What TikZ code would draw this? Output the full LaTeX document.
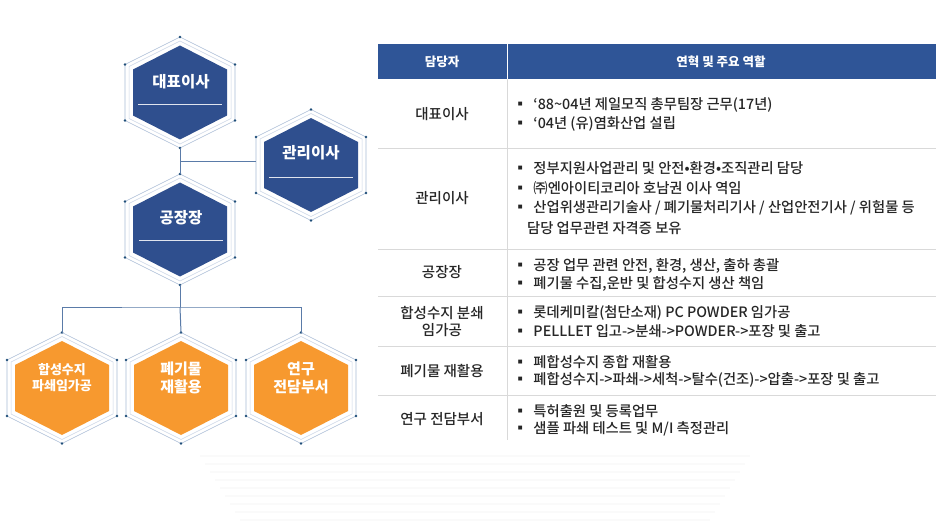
\documentclass[tikz,border=0pt]{standalone}
\usepackage{fontspec}
\setmainfont{Noto Sans CJK KR}
\newfontfamily\medf{Noto Sans CJK KR Medium}
\definecolor{navy}{HTML}{2F4F8E}
\definecolor{hdr}{HTML}{2F5597}
\definecolor{org}{HTML}{F7992F}
\definecolor{frame}{HTML}{A9BCD6}
\definecolor{dotc}{HTML}{1F4E79}
\definecolor{conn}{HTML}{5A7BA8}
\definecolor{sep}{HTML}{D9D9D9}
\newcommand{\myhex}[4]{% name, x, y, fill
  \coordinate (#1) at (#2,#3);
  \coordinate (#1-t) at (#2,#3-55.5);
  \coordinate (#1-b) at (#2,#3+55.5);
  \coordinate (#1-l) at (#2-55,#3);
  \draw[frame,line width=0.6pt,fill=white] (#2,#3-55.5)--(#2+55,#3-28)--(#2+55,#3+28)--(#2,#3+55.5)--(#2-55,#3+28)--(#2-55,#3-28)--cycle;
  \draw[frame!60,line width=0.5pt] (#2,#3-51.5)--(#2+51,#3-26)--(#2+51,#3+26)--(#2,#3+51.5)--(#2-51,#3+26)--(#2-51,#3-26)--cycle;
  \fill[#4] (#2,#3-47)--(#2+47,#3-23)--(#2+47,#3+23)--(#2,#3+47)--(#2-47,#3+23)--(#2-47,#3-23)--cycle;
  \foreach \dx/\dy in {0/-55.5,55/-28,55/28,0/55.5,-55/28,-55/-28}{\fill[dotc] (#2+\dx,#3+\dy) circle (1.4pt);}
}
\tikzset{
  hlab/.style={text=white,font=\fontsize{15.5}{18}\selectfont\bfseries,align=center},
  olab/.style={text=white,font=\fontsize{15}{18}\selectfont\bfseries,align=center},
  cell/.style={font=\medf\fontsize{14.5}{17}\selectfont,align=center,text=black!85},
  item/.style={anchor=west,font=\medf\fontsize{14.3}{17}\selectfont,text=black!85,inner sep=0pt},
  conline/.style={conn,line width=1pt},
  sepline/.style={sep,line width=0.6pt}
}
\newcommand{\bl}{▪\hspace{6pt}}
\begin{document}
\begin{tikzpicture}[x=1pt,y=-1pt]
\useasboundingbox (0,0) rectangle (946,532);
\fill[white] (0,0) rectangle (946,532);
% faint floor
\foreach \i in {0,...,8}{\fill[black!2] (200+\i*5,455+\i*8) rectangle (750-\i*5,457+\i*8);}
\coordinate (j1) at (180,162);
\coordinate (j2) at (180,307);
% hexes
\myhex{ceo}{180}{92.5}{navy}
\myhex{mgr}{311}{165}{navy}
\myhex{fac}{180}{229.5}{navy}
\myhex{o1}{62}{388}{org}
\myhex{o2}{181}{388}{org}
\myhex{o3}{301}{388}{org}
\draw[conline] (ceo-b) -- (fac-t);
\draw[conline] (j1) -- (mgr-l |- j1);
\draw[conline] (fac-b) -- (j2);
\draw[conline] (o1-t) |- (j2) -| (o3-t);
\draw[conline] (j2) -- (o2-t);
\draw[white!85!navy,line width=0.8pt] (138,104) -- (222,104);
\draw[white!85!navy,line width=0.8pt] (269,177) -- (353,177);
\draw[white!85!navy,line width=0.8pt] (139,240) -- (223,240);
\node[hlab] (tceo) at (181,82) {대표이사};
\node[hlab] (tmgr) at (311,153) {관리이사};
\node[hlab] (tfac) at (181,218) {공장장};
\node[olab,font=\fontsize{13}{16}\selectfont\bfseries] (to1) at (62,378) {합성수지\\파쇄임가공};
\node[olab] (to2) at (181,378) {폐기물\\재활용};
\node[olab] (to3) at (301,378) {연구\\전담부서};
% table
\fill[hdr] (378,44) rectangle (936,79);
\draw[white,line width=0.8pt] (507,44) -- (507,79);
\node[text=white,font=\fontsize{12.5}{14}\selectfont\bfseries] (h1) at (442,61.5) {담당자};
\node[text=white,font=\fontsize{12.5}{14}\selectfont\bfseries] (h2) at (721,61.5) {연혁 및 주요 역할};
\draw[sepline] (507,79) -- (507,440);
\foreach \yy in {148,249,296,346,395}{\draw[sepline] (378,\yy) -- (936,\yy);}
\node[cell] (c1) at (442,114) {대표이사};
\node[cell] (c2) at (442,198) {관리이사};
\node[cell] (c3) at (442,272) {공장장};
\node[cell] (c4) at (442,322) {합성수지 분쇄\\임가공};
\node[cell] (c5) at (442,371) {폐기물 재활용};
\node[cell] (c6) at (442,419) {연구 전담부서};
\node[item] (i11) at (513,105) {\bl ‘88\textasciitilde04년 제일모직 총무팀장 근무(17년)};
\node[item] (i12) at (513,124) {\bl ‘04년 (유)염화산업 설립};
\node[item] (i21) at (513,168) {\bl 정부지원사업관리 및 안전•환경•조직관리 담당};
\node[item] (i22) at (513,188) {\bl ㈜엔아이티코리아 호남권 이사 역임};
\node[item] (i23) at (513,208) {\bl 산업위생관리기술사 / 폐기물처리기사 / 산업안전기사 / 위험물 등};
\node[item] (i24) at (527,228) {담당 업무관련 자격증 보유};
\node[item] (i31) at (513,266) {\bl 공장 업무 관련 안전, 환경, 생산, 출하 총괄};
\node[item] (i32) at (513,284) {\bl 폐기물 수집,운반 및 합성수지 생산 책임};
\node[item] (i41) at (513,313) {\bl 롯데케미칼(첨단소재) PC POWDER 임가공};
\node[item] (i42) at (513,331) {\bl PELLLET 입고->분쇄->POWDER->포장 및 출고};
\node[item] (i51) at (513,362) {\bl 폐합성수지 종합 재활용};
\node[item] (i52) at (513,380) {\bl 폐합성수지->파쇄->세척->탈수(건조)->압출->포장 및 출고};
\node[item] (i61) at (513,411) {\bl 특허출원 및 등록업무};
\node[item] (i62) at (513,429) {\bl 샘플 파쇄 테스트 및 M/I 측정관리};
\end{tikzpicture}
\end{document}
